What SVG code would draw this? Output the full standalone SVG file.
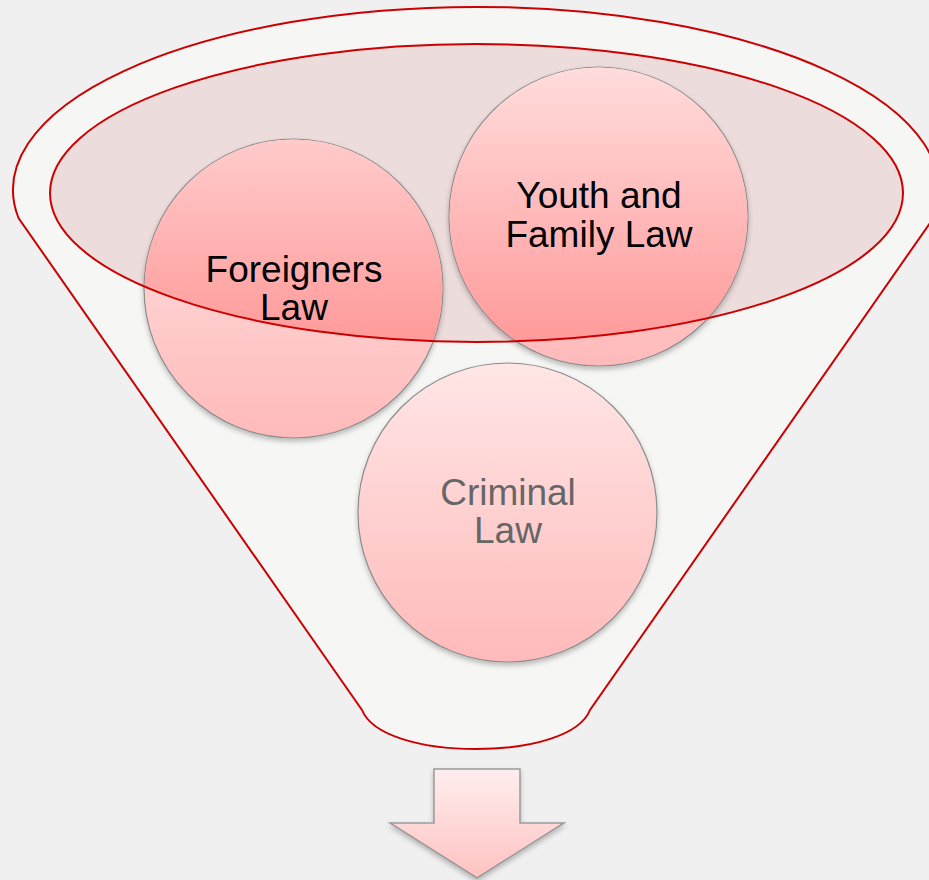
<svg xmlns="http://www.w3.org/2000/svg" width="929" height="880" viewBox="0 0 929 880">
  <defs>
    <style>
      .lbl { font-family: "Liberation Sans", Arial, sans-serif; font-size: 37px; text-anchor: middle; }
      .dark { fill: #000000; }
      .grey { fill: #666666; }
      .circ { stroke: #8c8c8c; stroke-width: 1.2; }
      .red { fill: none; stroke: #cc0000; stroke-width: 2; }
    </style>
    <linearGradient id="gCircle" x1="0" y1="0" x2="0" y2="1">
      <stop offset="0" stop-color="#ffe6e6"/>
      <stop offset="1" stop-color="#ffbaba"/>
    </linearGradient>
    <linearGradient id="gInside" gradientUnits="userSpaceOnUse" x1="0" y1="44" x2="0" y2="342">
      <stop offset="0" stop-color="#ffe2e2"/>
      <stop offset="1" stop-color="#ff9a9a"/>
    </linearGradient>
    <linearGradient id="gArrow" x1="0" y1="0" x2="0" y2="1">
      <stop offset="0" stop-color="#ffeeee"/>
      <stop offset="1" stop-color="#ffc2c2"/>
    </linearGradient>
    <clipPath id="clipEll">
      <ellipse cx="476.5" cy="193" rx="426.5" ry="149"/>
    </clipPath>
    <filter id="shadow" x="-10%" y="-10%" width="120%" height="125%">
      <feDropShadow dx="0" dy="3" stdDeviation="2.5" flood-color="#000000" flood-opacity="0.25"/>
    </filter>
  </defs>

  <rect x="0" y="0" width="929" height="880" fill="#f0f0f0"/>

  <g id="funnel">
    <path d="M 362 710 L 18.5 218 A 463 183 0 1 1 933.5 218 L 590 710 C 580 735 532 749 476 749 C 420 749 372 735 362 710 Z" fill="#f6f6f5" stroke="#cc0000" stroke-width="2"/>
    <ellipse id="funnel-mouth" cx="476.5" cy="193" rx="426.5" ry="149" fill="#c36969" fill-opacity="0.18"/>
  </g>

  <g id="node-criminal">
    <circle class="circ" cx="507.5" cy="512.5" r="149.5" fill="url(#gCircle)" filter="url(#shadow)"/>
    <text class="lbl grey" x="508" y="505">Criminal</text>
    <text class="lbl grey" x="508" y="543">Law</text>
  </g>

  <g id="node-foreigners">
    <circle class="circ" cx="293.5" cy="288.5" r="149.5" fill="url(#gCircle)" filter="url(#shadow)"/>
    <circle cx="293.5" cy="288.5" r="149" fill="url(#gInside)" clip-path="url(#clipEll)"/>
  </g>

  <g id="node-youth">
    <circle class="circ" cx="598.5" cy="216.5" r="149.5" fill="url(#gCircle)" filter="url(#shadow)"/>
    <circle cx="598.5" cy="216.5" r="149" fill="url(#gInside)" clip-path="url(#clipEll)"/>
  </g>

  <ellipse class="red" cx="476.5" cy="193" rx="426.5" ry="149"/>

  <g id="labels">
    <text class="lbl dark" x="294" y="282">Foreigners</text>
    <text class="lbl dark" x="294" y="320">Law</text>
    <text class="lbl dark" x="599" y="208">Youth and</text>
    <text class="lbl dark" x="599" y="247">Family Law</text>
  </g>

  <g id="node-arrow">
    <polygon points="434,769 520,769 520,823 564,823 477,878 390,823 434,823" fill="url(#gArrow)" stroke="#9a9a9a" stroke-width="1.5" filter="url(#shadow)"/>
  </g>
</svg>
